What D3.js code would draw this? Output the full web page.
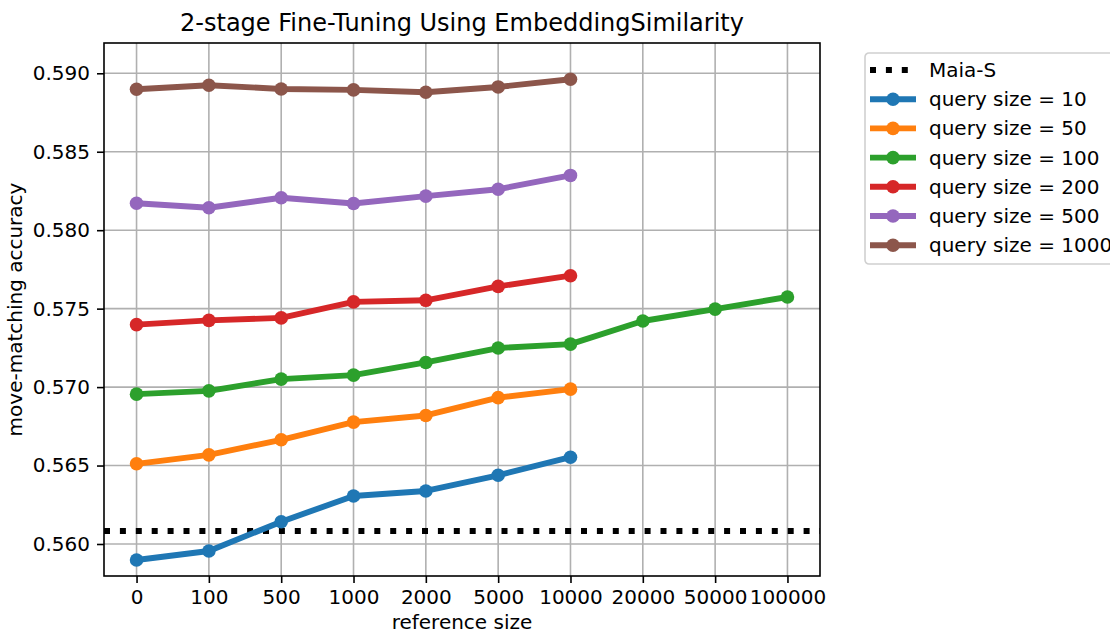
<!DOCTYPE html>
<html>
<head>
<meta charset="utf-8">
<script src="https://cdn.jsdelivr.net/npm/d3@7/dist/d3.min.js"></script>
<style>
  body { margin: 0; background: #fff; }
  svg { display: block; font-family: "DejaVu Sans", sans-serif; }
</style>
</head>
<body>
<svg id="chart" width="1110" height="635"></svg>
<script>
// reference sizes (categorical x axis)
const refSizes = ["0", "100", "500", "1000", "2000", "5000", "10000", "20000", "50000", "100000"];

const q10   = [0.55898, 0.55955, 0.56142, 0.56306, 0.56338, 0.56438, 0.56553];
const q50   = [0.56511, 0.56568, 0.56664, 0.56777, 0.56819, 0.56933, 0.56987];
const q100  = [0.56955, 0.56976, 0.57051, 0.57076, 0.57157, 0.57249, 0.57274, 0.57421, 0.57497, 0.57574];
const q200  = [0.57398, 0.57425, 0.57441, 0.57543, 0.57553, 0.57642, 0.57710];
const q500  = [0.58172, 0.58143, 0.58207, 0.58170, 0.58217, 0.58261, 0.58349];
const q1000 = [0.58898, 0.58924, 0.58900, 0.58894, 0.58879, 0.58913, 0.58962];

const maiaS = 0.56083;
const yTicks = [0.560, 0.565, 0.570, 0.575, 0.580, 0.585, 0.590];

const series = [
   { name: "query size = 10",   values: q10,   color: "#1f77b4" },
   { name: "query size = 50",   values: q50,   color: "#ff7f0e" },
   { name: "query size = 100",  values: q100,  color: "#2ca02c" },
   { name: "query size = 200",  values: q200,  color: "#d62728" },
   { name: "query size = 500",  values: q500,  color: "#9467bd" },
   { name: "query size = 1000", values: q1000, color: "#8c564b" }
];

const svg = d3.select("#chart");
const plot = { left: 104, right: 820, top: 43, bottom: 576 };
const fs = "20px";

// matplotlib-style categorical margins: 0.45 category on each side
const x = d3.scalePoint()
   .domain(refSizes)
   .range([plot.left, plot.right])
   .padding(0.45);

const y = d3.scaleLinear()
   .domain([0.55796, 0.59193])
   .range([plot.bottom, plot.top]);

const gridColor = "#b0b0b0";

// grid
const grid = svg.append("g");
grid.selectAll("line.vx").data(refSizes).enter().append("line")
   .attr("x1", d => x(d)).attr("x2", d => x(d))
   .attr("y1", plot.top).attr("y2", plot.bottom)
   .attr("stroke", gridColor).attr("stroke-width", 1.6);
grid.selectAll("line.hy").data(yTicks).enter().append("line")
   .attr("x1", plot.left).attr("x2", plot.right)
   .attr("y1", d => y(d)).attr("y2", d => y(d))
   .attr("stroke", gridColor).attr("stroke-width", 1.6);

// axes
const xAxis = svg.append("g")
   .attr("transform", `translate(0,${plot.bottom})`)
   .call(d3.axisBottom(x).tickSize(7).tickPadding(7));
const yAxis = svg.append("g")
   .attr("transform", `translate(${plot.left},0)`)
   .call(d3.axisLeft(y).tickValues(yTicks).tickFormat(d3.format(".3f")).tickSize(7).tickPadding(7));

[xAxis, yAxis].forEach(a => {
   a.select(".domain").remove();
   a.selectAll(".tick line").attr("stroke", "#000").attr("stroke-width", 1.6);
   a.selectAll(".tick text")
      .attr("fill", "#000")
      .style("font-size", fs)
      .style("font-family", "DejaVu Sans");
});

// Maia-S baseline
svg.append("line")
   .attr("x1", plot.left).attr("x2", plot.right)
   .attr("y1", y(maiaS)).attr("y2", y(maiaS))
   .attr("stroke", "#000").attr("stroke-width", 6)
   .attr("stroke-dasharray", "6 9.9");

// series
const line = d3.line()
   .x((d, i) => x(refSizes[i]))
   .y(d => y(d));

series.forEach(s => {
   const g = svg.append("g");
   g.append("path")
      .attr("d", line(s.values))
      .attr("fill", "none")
      .attr("stroke", s.color)
      .attr("stroke-width", 5.9)
      .attr("stroke-linejoin", "round");
   g.selectAll("circle").data(s.values).enter().append("circle")
      .attr("cx", (d, i) => x(refSizes[i]))
      .attr("cy", d => y(d))
      .attr("r", 6.8)
      .attr("fill", s.color);
});

// frame
svg.append("rect")
   .attr("x", plot.left).attr("y", plot.top)
   .attr("width", plot.right - plot.left).attr("height", plot.bottom - plot.top)
   .attr("fill", "none").attr("stroke", "#000").attr("stroke-width", 1.6);

// title and labels
svg.append("text")
   .attr("x", (plot.left + plot.right) / 2).attr("y", 31)
   .attr("text-anchor", "middle")
   .style("font-size", "24px")
   .text("2-stage Fine-Tuning Using EmbeddingSimilarity");

svg.append("text")
   .attr("x", (plot.left + plot.right) / 2).attr("y", 629)
   .attr("text-anchor", "middle")
   .style("font-size", fs)
   .text("reference size");

svg.append("text")
   .attr("transform", `translate(22,${(plot.top + plot.bottom) / 2}) rotate(-90)`)
   .attr("text-anchor", "middle")
   .style("font-size", fs)
   .text("move-matching accuracy");

// legend
const legend = svg.append("g").attr("transform", "translate(865,53)");
legend.append("rect")
   .attr("x", 0).attr("y", 0)
   .attr("width", 270).attr("height", 211)
   .attr("rx", 4)
   .attr("fill", "#fff").attr("stroke", "#d0d0d0").attr("stroke-width", 1.6);

const legendItems = [{ name: "Maia-S", color: "#000", dotted: true }].concat(series);
const rowY = (i) => 17 + i * 29.2;

legendItems.forEach((it, i) => {
   const row = legend.append("g").attr("transform", `translate(0,${rowY(i)})`);
   if (it.dotted) {
      row.append("line")
         .attr("x1", 5).attr("x2", 51)
         .attr("stroke", "#000").attr("stroke-width", 6)
         .attr("stroke-dasharray", "6 9.9");
   } else {
      row.append("line")
         .attr("x1", 5).attr("x2", 51)
         .attr("stroke", it.color).attr("stroke-width", 5.9);
      row.append("circle").attr("cx", 28).attr("r", 6.8).attr("fill", it.color);
   }
   row.append("text")
      .attr("x", 64).attr("dy", "0.35em")
      .style("font-size", fs)
      .text(it.name);
});
</script>
</body>
</html>
